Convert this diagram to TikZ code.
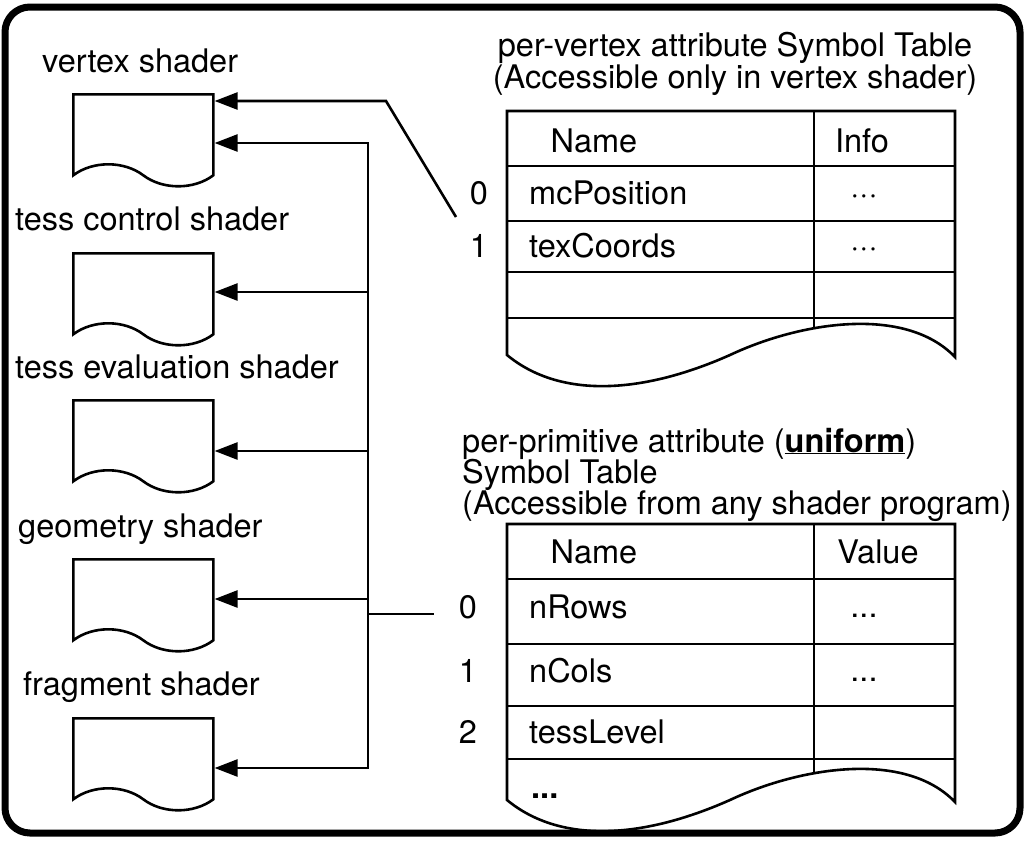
\documentclass[tikz,border=0pt]{standalone}
\usepackage{fontspec}
\setmainfont{TeX Gyre Heros}
\usetikzlibrary{arrows.meta,shapes.symbols}

\tikzset{
  lbl/.style={inner sep=0pt, font=\fontsize{32.5}{31}\selectfont},
  wire/.style={line width=2.6pt},
  feed/.style={wire, -{Triangle[length=23pt,width=17pt]}},
  shaderdoc/.style={draw, wire, shape=tape, tape bend top=none,
    tape bend bottom=out and in, tape bend height=22pt,
    minimum width=140pt, minimum height=92pt, anchor=north west},
}

\begin{document}
\begin{tikzpicture}[x=1pt, y=-1pt]
                \useasboundingbox (0,0) rectangle (1026,841);
                \draw [line width=7pt, rounded corners=25pt] (5,7) rectangle (1020,833);
                % shader programs
                \node [lbl, anchor=base west] (vslbl) at (42,72) {vertex shader};
                \node [shaderdoc] (vs) at (72,93) {};
                \node [lbl, anchor=base west] (tclbl) at (15,230) {tess control shader};
                \node [shaderdoc] (tc) at (72,252) {};
                \node [lbl, anchor=base west] (telbl) at (15,378) {tess evaluation shader};
                \node [shaderdoc] (te) at (72,399) {};
                \node [lbl, anchor=base west] (gslbl) at (18,537) {geometry shader};
                \node [shaderdoc] (gs) at (72,558) {};
                \node [lbl, anchor=base west] (fslbl) at (23,695) {fragment shader};
                \node [shaderdoc] (fs) at (72,717) {};
                % per-vertex attribute table
                \node [lbl, anchor=base] (vtit1) at (735,56) {per-vertex attribute Symbol Table};
                \node [lbl, anchor=base] (vtit2) at (735,88) {(Accessible only in vertex shader)};
                \draw [wire] (507,111) -- (955,111) -- (955,357)
                    .. controls (905,305) and (800,322) .. (730,355)
                    .. controls (640,395) and (559,398) .. (507,355) -- cycle;
                \draw [wire] (507,166) -- (955,166);
                \draw [wire] (507,221) -- (955,221);
                \draw [wire] (507,272) -- (955,272);
                \draw [wire] (507,318) -- (955,318);
                \draw [wire] (814,111) -- (814,329);
                \node [lbl, anchor=base] (vname) at (594,152) {Name};
                \node [lbl, anchor=base] (vinfo) at (862,152) {Info};
                \node [lbl, anchor=base] (vi0) at (479,204) {0};
                \node [lbl, anchor=base west] (va0) at (529,204) {mcPosition};
                \node [lbl, anchor=base] (vd0) at (864,204) {···};
                \node [lbl, anchor=base] (vi1) at (479,257) {1};
                \node [lbl, anchor=base west] (va1) at (529,257) {texCoords};
                \node [lbl, anchor=base] (vd1) at (864,257) {···};
                % per-primitive (uniform) table
                \node [lbl, anchor=base west] (utit1) at (462,452) {per-primitive attribute (\underline{\textbf{uniform}})};
                \node [lbl, anchor=base west] (utit2) at (462,483) {Symbol Table};
                \node [lbl, anchor=base west] (utit3) at (462,514) {(Accessible from any shader program)};
                \draw [wire] (507,524) -- (955,524) -- (955,802)
                    .. controls (905,750) and (800,767) .. (730,800)
                    .. controls (640,840) and (559,843) .. (507,800) -- cycle;
                \draw [wire] (507,579) -- (955,579);
                \draw [wire] (507,644) -- (955,644);
                \draw [wire] (507,706) -- (955,706);
                \draw [wire] (507,759) -- (955,759);
                \draw [wire] (814,524) -- (814,774);
                \node [lbl, anchor=base] (uname) at (594,563) {Name};
                \node [lbl, anchor=base] (uvalue) at (878,563) {Value};
                \node [lbl, anchor=base] (ui0) at (468,618) {0};
                \node [lbl, anchor=base west] (ua0) at (529,618) {nRows};
                \node [lbl, anchor=base] (ud0) at (864,617) {...};
                \node [lbl, anchor=base] (ui1) at (468,682) {1};
                \node [lbl, anchor=base west] (ua1) at (529,682) {nCols};
                \node [lbl, anchor=base] (ud1) at (864,681) {...};
                \node [lbl, anchor=base] (ui2) at (468,743) {2};
                \node [lbl, anchor=base west] (ua2) at (529,743) {tessLevel};
                \node [lbl, anchor=base west] (umore) at (531,798) {\textbf{...}};
                % links
                \coordinate (b1) at (368,143);
                \coordinate (b2) at (368,292);
                \coordinate (b3) at (368,451);
                \coordinate (b4) at (368,599);
                \coordinate (b5) at (368,768);
                \coordinate (j) at (368,614);
                \coordinate (u0) at (434,614);
                \coordinate (k) at (386,101);
                \coordinate (a0) at (456,217);
                \draw [wire, line cap=rect] (b1) -- (b5);
                \draw [wire] (j) -- (u0);
                \draw [feed] (a0) -- (k) -- (k -| vs.east);
                \draw [feed] (b1) -- (b1 -| vs.east);
                \draw [feed] (b2) -- (b2 -| tc.east);
                \draw [feed] (b3) -- (b3 -| te.east);
                \draw [feed] (b4) -- (b4 -| gs.east);
                \draw [feed] (b5) -- (b5 -| fs.east);
            \end{tikzpicture}
\end{document}
